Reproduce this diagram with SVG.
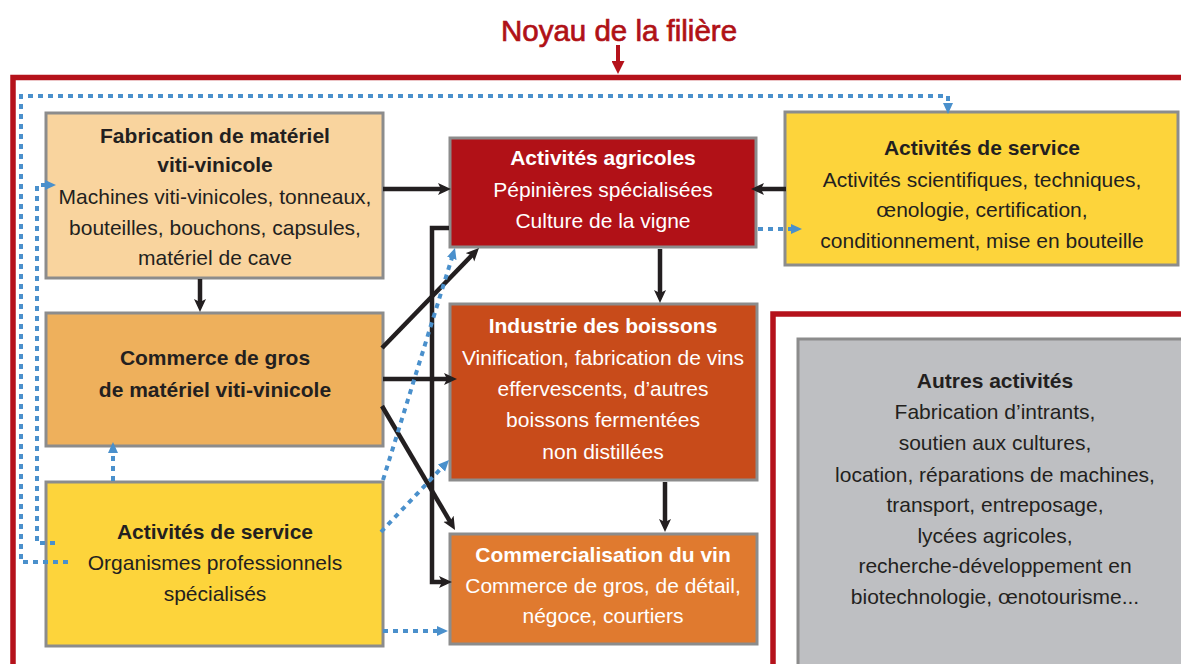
<svg xmlns="http://www.w3.org/2000/svg" width="1181" height="664" viewBox="0 0 1181 664">
<defs>
<style>
text{font-family:"Liberation Sans",Arial,sans-serif;font-size:21px;text-anchor:middle;fill:#231F20}
.b{font-weight:bold}
.w{fill:#ffffff}
.box{stroke:#8C8C8C;stroke-width:3}
.frame{fill:none;stroke:#B5121B;stroke-width:5.5}
.blk{fill:none;stroke:#231F20;stroke-width:4.5}
.blu{fill:none;stroke:#4A90CC;stroke-width:4;stroke-dasharray:5 5}
</style>
<marker id="ab" markerUnits="userSpaceOnUse" markerWidth="14" markerHeight="13" refX="7" refY="6" orient="auto">
<path d="M0,0 L13,6 L0,12 L3,6 z" fill="#231F20"/>
</marker>
<marker id="au" markerUnits="userSpaceOnUse" markerWidth="12" markerHeight="11" refX="5" refY="5" orient="auto">
<path d="M0,0 L11,5 L0,10 z" fill="#4A90CC"/>
</marker>
<marker id="ar" markerUnits="userSpaceOnUse" markerWidth="14" markerHeight="13" refX="6" refY="6.5" orient="auto">
<path d="M0,0 L13,6.5 L0,13 z" fill="#B5121B"/>
</marker>
</defs>
<rect width="1181" height="664" fill="#ffffff"/>
<g id="title">
<text x="619" y="41" style="font-size:29.5px;fill:#B01116;stroke:#B01116;stroke-width:0.7">Noyau de la filière</text>
<line x1="618" y1="45" x2="618" y2="67" stroke="#B5121B" stroke-width="4" marker-end="url(#ar)"/>
</g>
<g id="frames">
<rect class="frame" x="13" y="77.5" width="1200" height="700"/>
<rect class="frame" x="773" y="314" width="500" height="400"/>
</g>
<g id="fabrication">
<rect class="box" x="46" y="113" width="337" height="165" fill="#F9D49E"/>
<text class="b" x="215" y="143">Fabrication de matériel</text>
<text class="b" x="215" y="172">viti-vinicole</text>
<text x="215" y="204">Machines viti-vinicoles, tonneaux,</text>
<text x="215" y="235">bouteilles, bouchons, capsules,</text>
<text x="215" y="265">matériel de cave</text>
</g>
<g id="commerce-gros">
<rect class="box" x="46" y="313" width="337" height="133" fill="#EEB05C"/>
<text class="b" x="215" y="365">Commerce de gros</text>
<text class="b" x="215" y="397">de matériel viti-vinicole</text>
</g>
<g id="service-gauche">
<rect class="box" x="46" y="482" width="337" height="164" fill="#FDD43B"/>
<text class="b" x="215" y="539">Activités de service</text>
<text x="215" y="570">Organismes professionnels</text>
<text x="215" y="601">spécialisés</text>
</g>
<g id="agricoles">
<rect class="box" x="450" y="138" width="306" height="109" fill="#B11117"/>
<text class="b w" x="603" y="165">Activités agricoles</text>
<text class="w" x="603" y="197">Pépinières spécialisées</text>
<text class="w" x="603" y="228">Culture de la vigne</text>
</g>
<g id="boissons">
<rect class="box" x="450" y="304" width="307" height="176" fill="#C84B1A"/>
<text class="b w" x="603" y="333">Industrie des boissons</text>
<text class="w" x="603" y="365">Vinification, fabrication de vins</text>
<text class="w" x="603" y="396">effervescents, d’autres</text>
<text class="w" x="603" y="427">boissons fermentées</text>
<text class="w" x="603" y="459">non distillées</text>
</g>
<g id="commercialisation">
<rect class="box" x="450" y="534" width="307" height="110" fill="#E07A2F"/>
<text class="b w" x="603" y="562">Commercialisation du vin</text>
<text class="w" x="603" y="593">Commerce de gros, de détail,</text>
<text class="w" x="603" y="623">négoce, courtiers</text>
</g>
<g id="service-droite">
<rect class="box" x="785" y="112" width="393" height="153" fill="#FDD43B"/>
<text class="b" x="982" y="155">Activités de service</text>
<text x="982" y="187">Activités scientifiques, techniques,</text>
<text x="982" y="217">œnologie, certification,</text>
<text x="982" y="248">conditionnement, mise en bouteille</text>
</g>
<g id="autres">
<rect class="box" x="798" y="339" width="450" height="400" fill="#BEBFC2"/>
<text class="b" x="995" y="388">Autres activités</text>
<text x="995" y="419">Fabrication d’intrants,</text>
<text x="995" y="450">soutien aux cultures,</text>
<text x="995" y="482">location, réparations de machines,</text>
<text x="995" y="512">transport, entreposage,</text>
<text x="995" y="543">lycées agricoles,</text>
<text x="995" y="573">recherche-développement en</text>
<text x="995" y="604">biotechnologie, œnotourisme...</text>
</g>
<g id="connectors">
<path class="blk" d="M383,189 H445" marker-end="url(#ab)"/>
<path class="blk" d="M786,189 H757" marker-end="url(#ab)"/>
<path class="blk" d="M660,249 V297" marker-end="url(#ab)"/>
<path class="blk" d="M200,279 V306" marker-end="url(#ab)"/>
<path class="blk" d="M665,482 V526" marker-end="url(#ab)"/>
<path class="blk" d="M383,379 H451" marker-end="url(#ab)"/>
<path class="blk" d="M382,348 L474.8,252.3" marker-end="url(#ab)"/>
<path class="blk" d="M382,406 L452,524.8" marker-end="url(#ab)"/>
<path class="blk" d="M449,228 H432 V582 H446" marker-end="url(#ab)"/>
<path class="blu" d="M68,562 H21 V96 H948 V108" marker-end="url(#au)"/>
<path class="blu" d="M55,543 H37 V185 H50" marker-end="url(#au)"/>
<path class="blu" d="M113,481 V448" marker-end="url(#au)"/>
<path class="blu" d="M383,480 L453.2,253.7" marker-end="url(#au)"/>
<path class="blu" d="M381,532 L444.9,464.4" marker-end="url(#au)"/>
<path class="blu" d="M383,631 H442" marker-end="url(#au)"/>
<path class="blu" d="M758,229 H796" marker-end="url(#au)"/>
</g>
</svg>
